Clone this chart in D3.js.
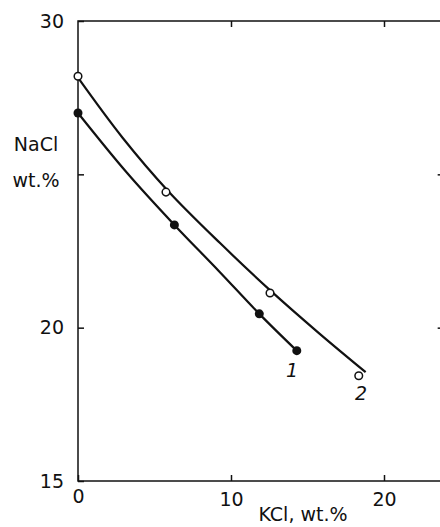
<!DOCTYPE html>
<html>
<head>
<meta charset="utf-8">
<script src="https://cdn.jsdelivr.net/npm/d3@7"></script>
<style>
  body { margin: 0; background: #fff; }
  svg text { font-family: "DejaVu Sans", sans-serif; fill: #111; }
</style>
</head>
<body>
<div id="chart"></div>
<script>
// measured points, KCl wt.% vs NaCl wt.%
const kcl1 = [0, 6.3, 11.85, 14.3];
const nacl1 = [27.0, 23.35, 20.45, 19.25];
const kcl2 = [0, 5.75, 12.55, 18.35];
const nacl2 = [28.2, 24.42, 21.13, 18.43];

// hand-drawn fit curves
const curveX1 = [0, 3.2, 6.3, 9.2, 11.85, 14.4];
const curveY1 = [27.0, 25.05, 23.35, 21.85, 20.45, 19.2];
const curveX2 = [0, 2.9, 5.9, 9.3, 12.6, 15.8, 18.8];
const curveY2 = [28.15, 26.2, 24.45, 22.75, 21.2, 19.8, 18.55];

const xTicks = [0, 10, 20];
const yTicks = [15, 20, 25, 30];
const yTickLabels = ["15", "20", "", "30"];

const width = 440, height = 527;
const x = d3.scaleLinear().domain([0, 20]).range([78, 384]);
const y = d3.scaleLinear().domain([15, 30]).range([481, 21]);
const xMax = 23.9;

const svg = d3.select("#chart").append("svg")
    .attr("width", width)
    .attr("height", height);

// frame
svg.append("rect")
    .attr("x", x(0)).attr("y", y(30))
    .attr("width", x(xMax) - x(0)).attr("height", y(15) - y(30))
    .attr("fill", "none").attr("stroke", "#111").attr("stroke-width", 1.5);

// bottom axis, ticks pointing in
const gBottom = svg.append("g")
    .attr("transform", `translate(0,${y(15)})`)
    .call(d3.axisBottom(x).tickValues(xTicks).tickSizeInner(-6).tickSizeOuter(0).tickPadding(12));
gBottom.select(".domain").remove();
gBottom.selectAll(".tick line").attr("stroke", "#111").attr("stroke-width", 1.5);
gBottom.selectAll(".tick text").style("font-size", "19px");
gBottom.selectAll(".tick").filter(d => d === 0).select("text").attr("dy", "0.55em");

// top ticks
const gTop = svg.append("g")
    .attr("transform", `translate(0,${y(30)})`)
    .call(d3.axisTop(x).tickValues([10, 20]).tickSizeInner(-6).tickSizeOuter(0).tickFormat(""));
gTop.select(".domain").remove();
gTop.selectAll(".tick line").attr("stroke", "#111").attr("stroke-width", 1.5);

// left axis
const gLeft = svg.append("g")
    .attr("transform", `translate(${x(0)},0)`)
    .call(d3.axisLeft(y).tickValues(yTicks).tickSizeInner(-6).tickSizeOuter(0)
        .tickPadding(14).tickFormat((d, i) => yTickLabels[i]));
gLeft.select(".domain").remove();
gLeft.selectAll(".tick line").attr("stroke", "#111").attr("stroke-width", 1.5);
gLeft.selectAll(".tick text").style("font-size", "19px");

// right ticks
const gRight = svg.append("g")
    .attr("transform", `translate(${x(xMax)},0)`)
    .call(d3.axisRight(y).tickValues([20, 25]).tickSizeInner(-6).tickSizeOuter(0).tickFormat(""));
gRight.select(".domain").remove();
gRight.selectAll(".tick line").attr("stroke", "#111").attr("stroke-width", 1.5);

// axis titles
svg.append("text").attr("x", 36).attr("y", 151).attr("text-anchor", "middle")
    .style("font-size", "19px").text("NaCl");
svg.append("text").attr("x", 36).attr("y", 187).attr("text-anchor", "middle")
    .style("font-size", "19px").text("wt.%");
svg.append("text").attr("x", 303).attr("y", 521).attr("text-anchor", "middle")
    .style("font-size", "19px").text("KCl, wt.%");

// curves
const line = d3.line().x(d => x(d[0])).y(d => y(d[1])).curve(d3.curveCatmullRom);
svg.append("path")
    .datum(d3.zip(curveX1, curveY1))
    .attr("d", line)
    .attr("fill", "none").attr("stroke", "#111").attr("stroke-width", 2.2);
svg.append("path")
    .datum(d3.zip(curveX2, curveY2))
    .attr("d", line)
    .attr("fill", "none").attr("stroke", "#111").attr("stroke-width", 2.2);

// markers
svg.selectAll("circle.s1")
    .data(d3.zip(kcl1, nacl1))
    .join("circle").attr("class", "s1")
    .attr("cx", d => x(d[0])).attr("cy", d => y(d[1])).attr("r", 4.5)
    .attr("fill", "#111");
svg.selectAll("circle.s2")
    .data(d3.zip(kcl2, nacl2))
    .join("circle").attr("class", "s2")
    .attr("cx", d => x(d[0])).attr("cy", d => y(d[1])).attr("r", 3.8)
    .attr("fill", "#fff").attr("stroke", "#111").attr("stroke-width", 1.5);

// curve labels
svg.append("text").attr("x", 292).attr("y", 377).attr("text-anchor", "middle")
    .style("font-size", "19px").style("font-style", "italic").text("1");
svg.append("text").attr("x", 361).attr("y", 400).attr("text-anchor", "middle")
    .style("font-size", "19px").style("font-style", "italic").text("2");
</script>
</body>
</html>
